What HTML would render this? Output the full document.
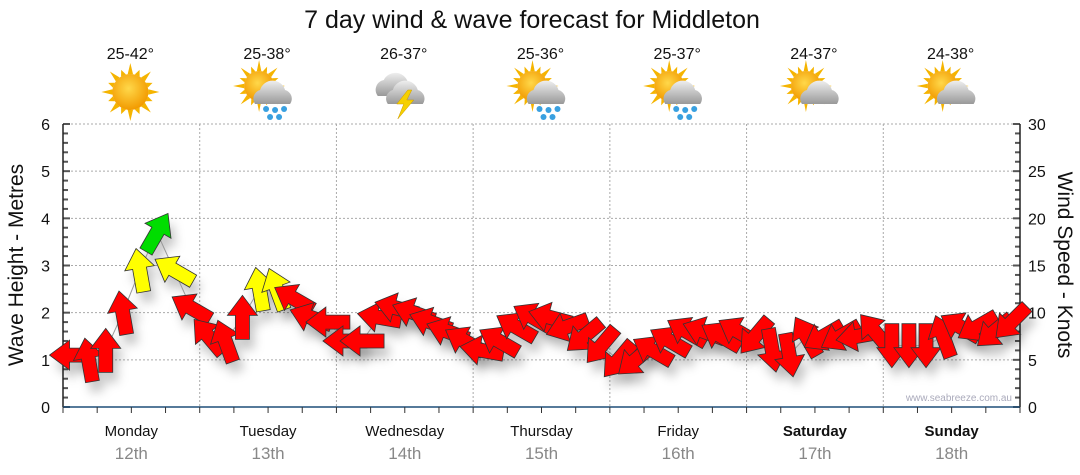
<!DOCTYPE html>
<html><head><meta charset="utf-8"><style>
body{margin:0;background:#fff;}
svg{display:block;font-family:"Liberation Sans",sans-serif;}
</style></head><body>
<svg id="c" width="1080" height="475" viewBox="0 0 1080 475">
<defs>
<filter id="sh" x="-50%" y="-50%" width="200%" height="200%"><feGaussianBlur stdDeviation="5"/></filter>
<radialGradient id="sun" cx="45%" cy="40%" r="60%"><stop offset="0" stop-color="#ffd84a"/><stop offset="1" stop-color="#f29a00"/></radialGradient>
<linearGradient id="cloud" x1="0" y1="0" x2="0" y2="1"><stop offset="0" stop-color="#eee"/><stop offset="1" stop-color="#999"/></linearGradient>
</defs>
<text x="532" y="28" text-anchor="middle" font-size="25" fill="#111">7 day wind &amp; wave forecast for Middleton</text>
<g id="grid"></g><g id="axes"></g><g id="icons"></g><g id="shadows" filter="url(#sh)"></g><g id="marks"></g>
<text x="1012" y="401" text-anchor="end" font-size="10" fill="#aab">www.seabreeze.com.au</text>
<text transform="translate(23,265) rotate(-90)" text-anchor="middle" font-size="21" fill="#111">Wave Height - Metres</text>
<text transform="translate(1058,265) rotate(90)" text-anchor="middle" font-size="21" fill="#111">Wind Speed - Knots</text>
</svg>
<script>
const days=["Monday","Tuesday","Wednesday","Thursday","Friday","Saturday","Sunday"];
const dates=["12th","13th","14th","15th","16th","17th","18th"];
const temps=["25-42°","25-38°","26-37°","25-36°","25-37°","24-37°","24-38°"];
const weather=["sun","rain","storm","rain","rain","cloud","cloud"];
const leftTicks=[0,1,2,3,4,5,6];
const rightTicks=[0,5,10,15,20,25,30];
const waveHeight=[1.1,1.0,1.2,2.0,2.9,3.7,2.9,2.1, 1.5,1.4,1.9,2.5,2.5,2.3,1.9,1.8, 1.4,1.4,1.9,2.1,2.0,1.8,1.6,1.4, 1.2,1.4,1.7,1.9,1.9,1.7,1.5,1.3, 1.0,1.0,1.2,1.4,1.6,1.6,1.5,1.6, 1.5,1.2,1.1,1.5,1.5,1.5,1.5,1.6, 1.3,1.3,1.3,1.5,1.7,1.7,1.6,1.8];
const windDir=[-90,-10,0,-10,-10,30,-60,-60, -40,-20,0,-10,-20,-60,-70,-90, -90,-90,-80,-75,-70,-70,-70,-60, -80,-60,-60,-60,-75,-110,-130,-140, -140,-130,-60,-60,-60,-70,-60,-60, -140,170,170,-30,-120,-120,-100,-40, 180,180,180,-20,-60,-120,-130,-135];
const rating=["r","r","r","r","y","g","y","r", "r","r","r","y","y","r","r","r", "r","r","r","r","r","r","r","r", "r","r","r","r","r","r","r","r", "r","r","r","r","r","r","r","r", "r","r","r","r","r","r","r","r", "r","r","r","r","r","r","r","r"];
const X0=63,X1=1020,Y0=407,Y1=124,DW=(X1-X0)/7;
const yL=v=>Y0-(v/6)*(Y0-Y1);
const yR=v=>Y0-(v/30)*(Y0-Y1);
const xT=i=>X0+(i+0.5)*DW/8;
const NS="http://www.w3.org/2000/svg";
function mk(t,a,p){const e=document.createElementNS(NS,t);for(const k in a)e.setAttribute(k,a[k]);p.appendChild(e);return e;}
const grid=document.getElementById('grid'),axes=document.getElementById('axes'),icons=document.getElementById('icons');
leftTicks.forEach(v=>{if(v>0){const l=mk('line',{x1:X0,x2:X1,y1:yL(v),y2:yL(v),stroke:'#aaa','stroke-dasharray':'2,2'},grid);

}
const t=mk('text',{x:50,y:yL(v)+6,'text-anchor':'end','font-size':16,fill:'#111'},axes);t.textContent=v;

});
for(let m=0;m<=30;m++){const y=Y0-m*(Y0-Y1)/30;mk('line',{x1:X0,x2:X0+(m%5?5:7),y1:y,y2:y,stroke:'#555','stroke-width':2},axes);
mk('line',{x1:X1,x2:X1-(m%5?5:7),y1:y,y2:y,stroke:'#555','stroke-width':2},axes);}
rightTicks.forEach(v=>{const t=mk('text',{x:1028,y:yR(v)+6,'font-size':16,fill:'#111'},axes);t.textContent=v;

});
mk('line',{x1:X0,x2:X0,y1:Y1,y2:Y0,stroke:'#222','stroke-width':1.5},axes);
mk('line',{x1:X1,x2:X1,y1:Y1,y2:Y0,stroke:'#222','stroke-width':1.5},axes);
mk('line',{x1:X0,x2:X1,y1:Y0,y2:Y0,stroke:'#1f4e79','stroke-width':1.5},axes);
for(let k=0;k<=28;k++){const x=X0+k*DW/4;mk('line',{x1:x,x2:x,y1:Y0,y2:Y0+6,stroke:'#333'},axes);}
const drawIcon=(kind,cx,cy)=>{const g=mk('g',{},icons);


if(kind!=='storm'){const sx=kind==='sun'?cx:cx-8,sy=kind==='sun'?cy:cy-6,r=kind==='sun'?18:15;
for(let a=0;a<16;a++){const an=a*Math.PI/8,l=a%2?r+6:r+11;mk('polygon',{points:`${sx+Math.cos(an-0.15)*r},${sy+Math.sin(an-0.15)*r} ${sx+Math.cos(an)*l},${sy+Math.sin(an)*l} ${sx+Math.cos(an+0.15)*r},${sy+Math.sin(an+0.15)*r}`,fill:'#f5b400'},g);}
mk('circle',{cx:sx,cy:sy,r:r,fill:'url(#sun)'},g);}
if(kind!=='sun'){const ox=kind==='storm'?cx+4:cx+8,oy=cy+3;
if(kind==='storm')mk('path',{d:`M${cx-26},${cy+4} a10,10 0 0 1 6,-16 a13,13 0 0 1 24,2 a9,9 0 0 1 2,14z`,fill:'url(#cloud)'},g);
mk('path',{d:`M${ox-20},${oy+9} a9,9 0 0 1 5,-14 a13,13 0 0 1 25,0 a9,9 0 0 1 5,14z`,fill:'url(#cloud)'},g);
if(kind==='rain')[[-9,14],[0,15],[9,14],[-5,22],[4,22]].forEach(d=>mk('circle',{cx:ox+d[0],cy:oy+d[1],r:3,fill:'#39a0e0'},g));
if(kind==='storm')mk('polygon',{points:`${cx+4},${cy-2} ${cx-7},${cy+12} ${cx},${cy+12} ${cx-6},${cy+27} ${cx+10},${cy+8} ${cx+3},${cy+8} ${cx+8},${cy-2}`,fill:'#f5d000',stroke:'#c90',"stroke-width":0.5},g);}};
days.forEach((d,i)=>{const cx=X0+(i+0.5)*DW;
if(i>0){const l=mk('line',{x1:X0+i*DW,x2:X0+i*DW,y1:Y1,y2:Y0,stroke:'#aaa','stroke-dasharray':'2,2'},grid);

}
let t=mk('text',{x:cx,y:436,'text-anchor':'middle','font-size':15,fill:'#111','font-weight':i>=5?'bold':'normal'},axes);t.textContent=d;


t=mk('text',{x:cx,y:459,'text-anchor':'middle','font-size':17,fill:'#888'},axes);t.textContent=dates[i];


t=mk('text',{x:cx-1,y:59,'text-anchor':'middle','font-size':16,fill:'#111'},icons);t.textContent=temps[i];


drawIcon(weather[i],cx-1,92);});
const marks=document.getElementById('marks'),shadows=document.getElementById('shadows');
let pts=waveHeight.map((v,i)=>xT(i)+','+yL(v)).join(' ');
const pl=mk('polyline',{points:pts,fill:'none',stroke:'#999','stroke-width':1},marks);


const shape="0,-22 15,-2 7,-2 7,22 -7,22 -7,-2 -15,-2";
const col={r:'#ff0000',y:'#ffff00',g:'#00dd00'};
waveHeight.forEach((v,i)=>{const x=xT(i),y=yL(v);
mk('polygon',{points:shape,fill:'#000','fill-opacity':0.22,transform:`translate(${x+5},${y+10}) rotate(${windDir[i]})`},shadows);
const a=mk('polygon',{points:shape,fill:col[rating[i]],stroke:'#333','stroke-width':0.8,'stroke-linejoin':'miter',transform:`translate(${x},${y}) rotate(${windDir[i]})`},marks);

});
</script>
</body></html>
